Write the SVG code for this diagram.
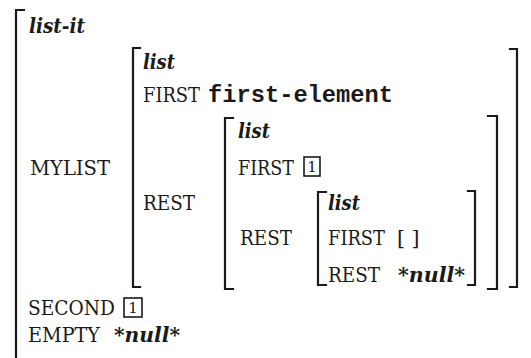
<svg xmlns="http://www.w3.org/2000/svg" width="531" height="358" viewBox="0 0 531 358">
<style>
.br{fill:none;stroke:#1a1a1a;stroke-width:2.2;stroke-linecap:square;stroke-linejoin:miter}
.bx{fill:none;stroke:#1a1a1a;stroke-width:1.6}
.t{font-family:"DejaVu Serif","Liberation Serif",serif;font-size:20.5px;fill:#1a1a1a}
.it{font-family:"DejaVu Serif","Liberation Serif",serif;font-size:21px;font-style:italic;font-weight:bold;fill:#1a1a1a}
.mono{font-family:"Liberation Mono","DejaVu Sans Mono",monospace;font-size:23.5px;font-weight:bold;fill:#1a1a1a}
.tag{font-family:"DejaVu Serif","Liberation Serif",serif;font-size:15px;fill:#1a1a1a}
</style>
<rect width="531" height="358" fill="#ffffff"/>
<g id="avm-outer">
<path class="br" d="M24,10 H16 V360"/>
<text class="it" x="29" y="33" textLength="56" lengthAdjust="spacingAndGlyphs">list-it</text>
<text class="t" x="30" y="175" textLength="80" lengthAdjust="spacingAndGlyphs">MYLIST</text>
<text class="t" x="28" y="315" textLength="87" lengthAdjust="spacingAndGlyphs">SECOND</text>
<rect class="bx" x="124" y="298" width="18" height="19"/>
<text class="tag" x="133" y="313" text-anchor="middle">1</text>
<text class="t" x="28" y="342" textLength="72" lengthAdjust="spacingAndGlyphs">EMPTY</text>
<text class="it" x="114" y="342" textLength="66" lengthAdjust="spacingAndGlyphs">*null*</text>
</g>
<g id="avm-mylist">
<path class="br" d="M140,48 H133 V287 H140"/>
<path class="br" d="M510,49 H517 V287 H510"/>
<text class="it" x="143" y="69" textLength="32" lengthAdjust="spacingAndGlyphs">list</text>
<text class="t" x="143" y="102" textLength="57" lengthAdjust="spacingAndGlyphs">FIRST</text>
<text class="mono" x="208" y="102" textLength="185" lengthAdjust="spacingAndGlyphs">first-element</text>
<text class="t" x="143" y="210" textLength="52" lengthAdjust="spacingAndGlyphs">REST</text>
</g>
<g id="avm-rest1">
<path class="br" d="M233,118 H225 V289 H233"/>
<path class="br" d="M488,116 H497 V289 H488"/>
<text class="it" x="238" y="138" textLength="32" lengthAdjust="spacingAndGlyphs">list</text>
<text class="t" x="238" y="175" textLength="56" lengthAdjust="spacingAndGlyphs">FIRST</text>
<rect class="bx" x="304" y="157" width="16" height="19"/>
<text class="tag" x="312" y="172" text-anchor="middle">1</text>
<text class="t" x="240" y="245" textLength="52" lengthAdjust="spacingAndGlyphs">REST</text>
</g>
<g id="avm-rest2">
<path class="br" d="M326,192 H318 V285 H326"/>
<path class="br" d="M468,191 H475 V285 H468"/>
<text class="it" x="328" y="210" textLength="32" lengthAdjust="spacingAndGlyphs">list</text>
<text class="t" x="328" y="245" textLength="57" lengthAdjust="spacingAndGlyphs">FIRST</text>
<text class="t" x="397" y="245">[ ]</text>
<text class="t" x="328" y="282" textLength="52" lengthAdjust="spacingAndGlyphs">REST</text>
<text class="it" x="398" y="282" textLength="67" lengthAdjust="spacingAndGlyphs">*null*</text>
</g>
</svg>
